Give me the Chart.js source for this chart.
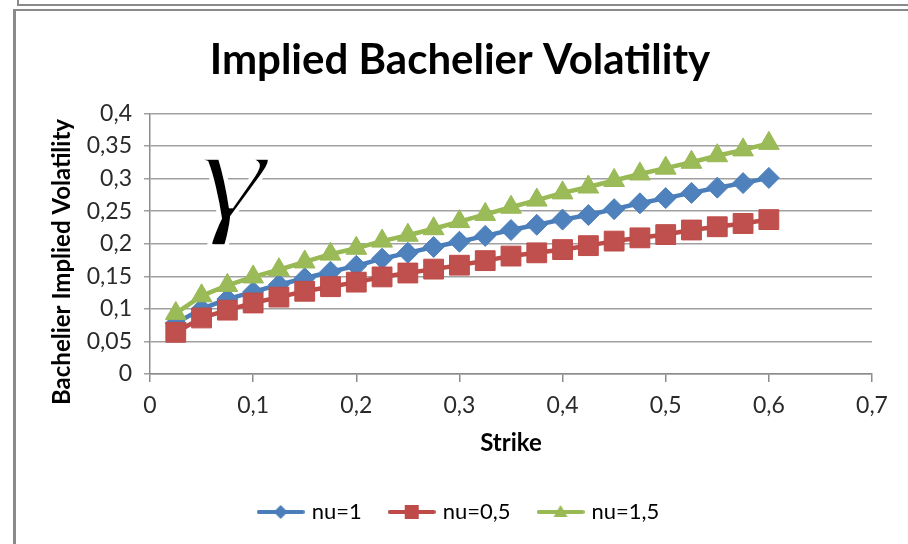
<!DOCTYPE html>
<html>
<head>
<meta charset="utf-8">
<script src="https://cdn.jsdelivr.net/npm/chart.js@4.4.1/dist/chart.umd.min.js"></script>
<style>
  html, body { margin: 0; padding: 0; background: #fff; }
  body { width: 908px; height: 544px; position: relative; overflow: hidden; }
  #topbox { position: absolute; left: 17px; top: -20px; width: 900px; height: 22px; border: 2px solid #8a8a8a; }
  #frame { position: absolute; left: 13px; top: 9px; width: 900px; height: 600px; border-left: 3px solid #8a8a8a; border-top: 2px solid #8a8a8a; }
  #wrap { position: absolute; left: 16px; top: 11px; width: 892px; height: 533px; }
</style>
</head>
<body>
<div id="topbox"></div>
<div id="frame"></div>
<div id="wrap"><canvas id="chart"></canvas></div>
<script>
// data
const strikes = [0.025, 0.05, 0.075, 0.1, 0.125, 0.15, 0.175, 0.2, 0.225, 0.25, 0.275, 0.3,
                 0.325, 0.35, 0.375, 0.4, 0.425, 0.45, 0.475, 0.5, 0.525, 0.55, 0.575, 0.6];
const nu1  = [0.078, 0.100, 0.115, 0.126, 0.137, 0.147, 0.157, 0.166, 0.177, 0.186, 0.195, 0.203,
              0.212, 0.221, 0.229, 0.237, 0.244, 0.253, 0.262, 0.270, 0.278, 0.286, 0.293, 0.301];
const nu05 = [0.064, 0.086, 0.098, 0.109, 0.118, 0.127, 0.134, 0.141, 0.149, 0.155, 0.161, 0.167,
              0.174, 0.181, 0.186, 0.191, 0.197, 0.204, 0.209, 0.214, 0.221, 0.226, 0.231, 0.237];
const nu15 = [0.093, 0.120, 0.136, 0.149, 0.160, 0.172, 0.184, 0.193, 0.204, 0.213, 0.223, 0.234,
              0.245, 0.256, 0.267, 0.278, 0.287, 0.297, 0.307, 0.316, 0.325, 0.335, 0.344, 0.354];
const seriesNames = ['nu=1', 'nu=0,5', 'nu=1,5'];
const xTickLabels = ['0', '0,1', '0,2', '0,3', '0,4', '0,5', '0,6', '0,7'];
const yTickLabels = ['0', '0,05', '0,1', '0,15', '0,2', '0,25', '0,3', '0,35', '0,4'];
const yTitle = 'Bachelier Implied Volatility';

// where the hand-drawn gamma sits (data coords) and how big it is (px)
const gammaAt = { x: 0.083, y: 0.265 };
const gammaBox = { w: 70, h: 88 };
// y title centre in canvas px (Excel put it a bit below the plot centre)
const yTitleAt = { x: 46, y: 251 };

const BLUE = '#4a7ebb', RED = '#be4b48', GREEN = '#98b954';
const font = 'Lato';

function pairs(ys) {
  return strikes.map((x, i) => ({ x: x, y: ys[i] }));
}

// small line+marker picture for the legend
function legendIcon(shape, color) {
  const c = document.createElement('canvas');
  c.width = 48; c.height = 20;
  const g = c.getContext('2d');
  g.strokeStyle = color; g.fillStyle = color;
  g.lineWidth = 4; g.lineCap = 'round';
  g.beginPath(); g.moveTo(2, 10); g.lineTo(46, 10); g.stroke();
  g.beginPath();
  if (shape === 'diamond') {
    g.moveTo(24, 3); g.lineTo(31, 10); g.lineTo(24, 17); g.lineTo(17, 10);
  } else if (shape === 'square') {
    g.rect(17, 3, 14, 14);
  } else {
    g.moveTo(24, 3); g.lineTo(31, 15); g.lineTo(17, 15);
  }
  g.closePath(); g.fill();
  return c;
}
const icons = [legendIcon('diamond', BLUE), legendIcon('square', RED), legendIcon('triangle', GREEN)];

const extrasPlugin = {
  id: 'extras',
  afterDatasetsDraw(chart) {
    const { ctx, scales: { x, y } } = chart;
    // gamma glyph
    ctx.save();
    ctx.font = 'italic 100px "Liberation Serif"';
    ctx.fillStyle = '#000';
    const m = ctx.measureText('γ');
    const w = m.actualBoundingBoxRight + m.actualBoundingBoxLeft;
    const h = m.actualBoundingBoxAscent + m.actualBoundingBoxDescent;
    const cx = x.getPixelForValue(gammaAt.x), cy = y.getPixelForValue(gammaAt.y);
    ctx.translate(cx - gammaBox.w / 2, cy - gammaBox.h / 2);
    ctx.scale(gammaBox.w / w, gammaBox.h / h);
    ctx.fillText('γ', m.actualBoundingBoxLeft, m.actualBoundingBoxAscent);
    // thin the stroke a bit
    ctx.strokeStyle = '#fff';
    ctx.lineWidth = 2.6;
    ctx.strokeText('γ', m.actualBoundingBoxLeft, m.actualBoundingBoxAscent);
    ctx.restore();
  },
  afterDraw(chart) {
    const ctx = chart.ctx;
    ctx.save();
    ctx.translate(yTitleAt.x, yTitleAt.y);
    ctx.rotate(-Math.PI / 2);
    ctx.font = 'bold 24px ' + font;
    ctx.fillStyle = '#000';
    ctx.textAlign = 'center';
    ctx.textBaseline = 'middle';
    ctx.fillText(yTitle, 0, 0);
    ctx.restore();
  }
};

new Chart(document.getElementById('chart'), {
  type: 'line',
  data: {
    datasets: [
      { label: seriesNames[0], data: pairs(nu1), borderColor: BLUE, backgroundColor: '#4f81bd',
        pointStyle: 'rectRot', pointRadius: 10.5, pointHoverRadius: 10.5, pointBorderWidth: 1, order: 3 },
      { label: seriesNames[1], data: pairs(nu05), borderColor: RED, backgroundColor: '#c0504d',
        pointStyle: 'rect', pointRadius: 14, pointHoverRadius: 14, pointBorderWidth: 1, order: 2 },
      { label: seriesNames[2], data: pairs(nu15), borderColor: GREEN, backgroundColor: '#9bbb59',
        pointStyle: 'triangle', pointRadius: 12, pointHoverRadius: 12, pointBorderWidth: 1, order: 1 }
    ]
  },
  options: {
    responsive: true, maintainAspectRatio: false, animation: false,
    layout: { padding: { left: 32, right: 36, top: 0, bottom: 11 } },
    elements: { line: { borderWidth: 4.5, tension: 0, borderCapStyle: 'round', borderJoinStyle: 'round' } },
    scales: {
      x: {
        type: 'linear', min: 0, max: 0.7,
        ticks: { stepSize: 0.1, callback: (v, i) => xTickLabels[i], font: { family: font, size: 23 },
                 color: '#2a2a2a', padding: 10, maxRotation: 0 },
        grid: { drawOnChartArea: false, drawTicks: true, tickLength: 8, color: '#8c8c8c', lineWidth: 1.5 },
        border: { color: '#8c8c8c', width: 1.5 },
        title: { display: true, text: 'Strike', color: '#000',
                 font: { family: font, size: 24, weight: 'bold' }, padding: { top: 0, bottom: 13 } },
        afterFit(s) { s.height = 97; }
      },
      y: {
        min: 0, max: 0.4,
        ticks: { stepSize: 0.05, callback: (v, i) => yTickLabels[i], font: { family: font, size: 23 },
                 color: '#2a2a2a', padding: 12 },
        grid: { color: '#a0a0a0', lineWidth: 1.5, tickLength: 6 },
        border: { color: '#8c8c8c', width: 1.5 },
        title: { display: false, text: yTitle },
        afterFit(s) { s.width = 102; }
      }
    },
    plugins: {
      title: { display: true, text: 'Implied Bachelier Volatility', color: '#000',
               font: { family: font, size: 42, weight: 'bold' }, padding: { top: 24, bottom: 28 } },
      legend: {
        position: 'bottom',
        labels: {
          usePointStyle: true, pointStyleWidth: 40, padding: 30, color: '#000',
          font: { family: font, size: 22 },
          sort: (a, b) => a.datasetIndex - b.datasetIndex,
          generateLabels(chart) {
            const items = Chart.defaults.plugins.legend.labels.generateLabels(chart);
            items.forEach(it => { it.pointStyle = icons[it.datasetIndex]; });
            return items;
          }
        }
      },
      tooltip: { enabled: false }
    }
  },
  plugins: [extrasPlugin]
});
</script>
</body>
</html>
